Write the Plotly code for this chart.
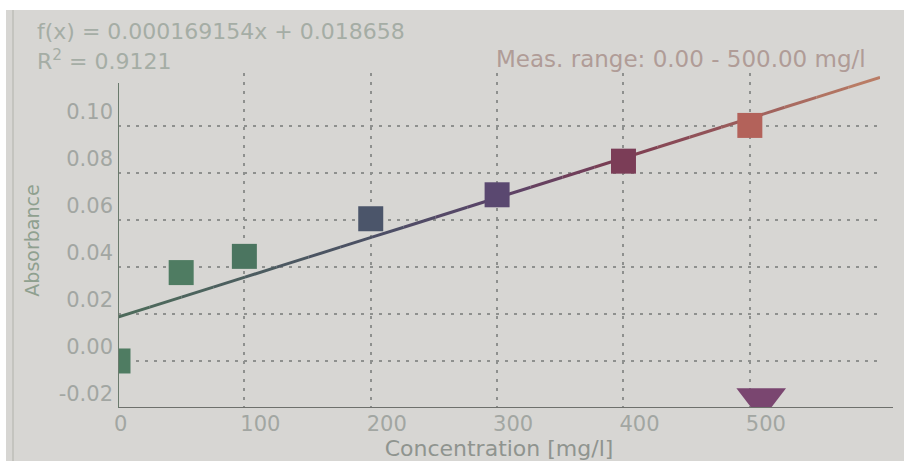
import plotly.graph_objects as go

# ---- data ----
conc = [0, 50, 100, 200, 300, 400, 500]
absorb = [0.000, 0.0376, 0.0445, 0.0605, 0.0707, 0.0850, 0.1002]
point_colors = ["#4f7c62", "#4f7c62", "#4b7560", "#4b556a", "#5a4870", "#7b3d57", "#b3625a"]
sample_conc = [509]
sample_abs = [-0.0162]
slope = 0.000169154
intercept = 0.018658
r2 = 0.9121
x_ticks = [0, 100, 200, 300, 400, 500]
y_ticks = [-0.02, 0.00, 0.02, 0.04, 0.06, 0.08, 0.10]

XMAX = 603
YMIN, YMAX = -0.02, 0.1225

# pixel geometry of plot area
L, R, T, B = 118, 880, 73, 408
W, H = 904, 461

def px2paper_x(px):
    return (px - L) / (R - L)

def px2paper_y(py):
    return (B - py) / (B - T)

def hex2rgb(h):
    h = h.lstrip("#")
    return [int(h[i:i + 2], 16) for i in (0, 2, 4)]

line_anchor_x = [0, 200, 300, 400, XMAX]
line_anchor_c = ["#4d6c5a", "#4b4f64", "#5a4468", "#7c3d52", "#bd8066"]

def color_at(x):
    for i in range(len(line_anchor_x) - 1):
        if line_anchor_x[i] <= x <= line_anchor_x[i + 1]:
            t = (x - line_anchor_x[i]) / (line_anchor_x[i + 1] - line_anchor_x[i])
            a, b = hex2rgb(line_anchor_c[i]), hex2rgb(line_anchor_c[i + 1])
            c = [round(a[k] + (b[k] - a[k]) * t) for k in range(3)]
            return "rgb(%d,%d,%d)" % tuple(c)
    return line_anchor_c[-1]

fig = go.Figure()

# fit line, drawn in coloured pieces
nseg = 24
for i in range(nseg):
    xa = XMAX * i / nseg
    xb = XMAX * (i + 1) / nseg
    fig.add_trace(go.Scatter(
        x=[xa, xb], y=[slope * xa + intercept, slope * xb + intercept],
        mode="lines", line=dict(color=color_at((xa + xb) / 2), width=3),
        hoverinfo="skip", showlegend=False))

fig.add_trace(go.Scatter(
    x=conc, y=absorb, mode="markers",
    marker=dict(symbol="square", size=25, color=point_colors, line=dict(width=0)),
    showlegend=False))

fig.add_trace(go.Scatter(
    x=sample_conc, y=sample_abs, mode="markers",
    marker=dict(symbol="triangle-down", size=43, color="#7a4670", line=dict(width=0)),
    showlegend=False))

bg = "#d7d6d3"
tick_font = dict(family="DejaVu Sans", size=21, color="#a2a6a2")

fig.update_layout(
    width=W, height=H,
    margin=dict(l=L, r=W - R, t=T, b=H - B),
    paper_bgcolor=bg, plot_bgcolor=bg,
    showlegend=False,
    xaxis=dict(
        range=[0, XMAX], tickvals=x_ticks, ticktext=[str(v) for v in x_ticks],
        showgrid=True, gridcolor="#8e908e", gridwidth=1.5, griddash="3px,6px",
        zeroline=False, showline=False, ticks="",
        ticklabelposition="outside right", ticklabelstandoff=1, ticklabelshift=-4,
        tickfont=tick_font,
        title=dict(text="Concentration [mg/l]", standoff=2,
                   font=dict(family="DejaVu Sans", size=22, color="#8f948f")),
        automargin=False,
    ),
    yaxis=dict(
        range=[YMIN, YMAX], tickvals=y_ticks, ticktext=["%.2f" % v for v in y_ticks],
        showgrid=True, gridcolor="#8e908e", gridwidth=1.5, griddash="3px,6px",
        zeroline=False, showline=False, ticks="",
        ticklabelposition="outside top", ticklabelstandoff=4,
        tickfont=tick_font,
        title=dict(text="Absorbance", standoff=14,
                   font=dict(family="DejaVu Sans", size=19, color="#8fa08f")),
        automargin=False,
    ),
    shapes=[
        # white border of the photo
        dict(type="rect", xref="paper", yref="paper",
             x0=px2paper_x(-5), x1=px2paper_x(W + 5), y0=px2paper_y(10), y1=px2paper_y(-5),
             fillcolor="white", line=dict(width=0), layer="below"),
        dict(type="rect", xref="paper", yref="paper",
             x0=px2paper_x(-5), x1=px2paper_x(6), y0=px2paper_y(H + 5), y1=px2paper_y(-5),
             fillcolor="white", line=dict(width=0), layer="below"),
        dict(type="line", xref="paper", yref="paper",
             x0=px2paper_x(13), x1=px2paper_x(13), y0=px2paper_y(H), y1=px2paper_y(10),
             line=dict(color="#c4c4bf", width=2), layer="below"),
        # axis lines
        dict(type="line", xref="paper", yref="y",
             x0=0, x1=px2paper_x(893), y0=YMIN, y1=YMIN,
             line=dict(color="#6e706c", width=2)),
        dict(type="line", xref="x", yref="paper",
             x0=0, x1=0, y0=0, y1=px2paper_y(83),
             line=dict(color="#6a7a6c", width=2)),
    ],
    annotations=[
        dict(text="f(x) = 0.000169154x + 0.018658", xref="paper", yref="paper",
             x=px2paper_x(35), y=px2paper_y(31), xanchor="left", yanchor="middle",
             showarrow=False, font=dict(family="DejaVu Sans", size=22, color="#a5ada5")),
        dict(text="R<sup>2</sup> = %.4f" % r2, xref="paper", yref="paper",
             x=px2paper_x(35), y=px2paper_y(60), xanchor="left", yanchor="middle",
             showarrow=False, font=dict(family="DejaVu Sans", size=22, color="#a5ada5")),
        dict(text="Meas. range: 0.00 - 500.00 mg/l", xref="paper", yref="paper",
             x=px2paper_x(868), y=px2paper_y(59), xanchor="right", yanchor="middle",
             showarrow=False, font=dict(family="DejaVu Sans", size=23, color="#b09c97")),
    ],
)

fig.write_html("out.html", config={"displayModeBar": False},
               post_script="document.body.style.margin='0';document.body.style.overflow='hidden';")
